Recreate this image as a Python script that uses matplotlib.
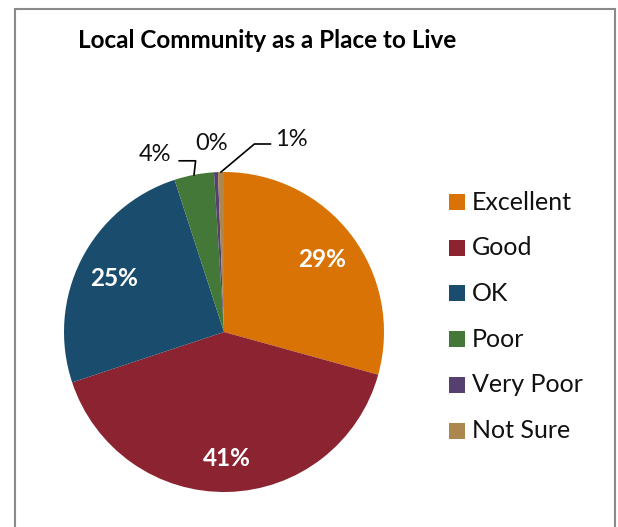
import matplotlib
matplotlib.use("Agg")
import matplotlib.pyplot as plt
from matplotlib.patches import Rectangle
import numpy as np

categories = ["Excellent", "Good", "OK", "Poor", "Very Poor", "Not Sure"]
values = [29.3, 40.6, 25.1, 4.0, 0.4, 0.6]
colors = ["#D97306", "#8C2331", "#1A4D6D", "#437839", "#55406F", "#AC874F"]
title = "Local Community as a Place to Live"

plt.rcParams['font.family'] = ['Lato', 'DejaVu Sans']

W, H = 618, 527
fig = plt.figure(figsize=(W / 100, H / 100), dpi=100)
fig.patch.set_facecolor("white")

# outer border
fig.patches.append(Rectangle((14.5 / W, -0.1), (615 - 14.5) / W, 1.1 - 8.5 / H,
                             transform=fig.transFigure, fill=False,
                             edgecolor="#8a8a8a", linewidth=1.5))

cx, cy, r = 224, 332, 160
ax = fig.add_axes([(cx - r) / W, (H - cy - r) / H, 2 * r / W, 2 * r / H])
wedges, _ = ax.pie(values, colors=colors, startangle=90, counterclock=False,
                   radius=1.0, wedgeprops=dict(linewidth=0))
ax.set_xlim(-1, 1)
ax.set_ylim(-1, 1)
ax.set_aspect("equal")
ax.axis("off")

total = sum(values)
cum = 0
mids = []
for v in values:
    mids.append(90 - 360 * (cum + v / 2) / total)
    cum += v

# inside labels for the large slices
for i in range(3):
    a = np.deg2rad(mids[i])
    d = 0.77 if i != 1 else 0.78
    ax.text(d * np.cos(a), d * np.sin(a) - 0.01, f"{values[i]:.0f}%", color="white",
            ha="center", va="center", fontsize=17.5, fontweight="bold")

# outside labels with leader lines
txt_pos = {3: (-0.43, 1.11), 4: (-0.08, 1.175), 5: (0.42, 1.205)}
for i, (tx, ty) in txt_pos.items():
    a = np.deg2rad(mids[i])
    ex, ey = np.cos(a), np.sin(a)
    ax.text(tx, ty, f"{values[i]:.0f}%", ha="center", va="center",
            fontsize=17, color="#111111")
    if i == 3:
        ax.plot([tx + 0.15, ex + 0.01, ex], [ty - 0.04, ty - 0.04, ey],
                color="black", lw=1.2, clip_on=False)
    if i == 5:
        ax.plot([tx - 0.13, tx - 0.23, ex], [ty - 0.03, ty - 0.03, ey],
                color="black", lw=1.2, clip_on=False)

fig.text(267 / W, 1 - 40 / H, title, ha="center", va="center",
         fontsize=17.5, fontweight="bold")

# legend
leg_top = 202
for i, lab in enumerate(categories):
    y = leg_top + i * 45.7
    fig.patches.append(Rectangle((449 / W, 1 - (y + 8) / H), 16 / W, 16 / H,
                                 transform=fig.transFigure, facecolor=colors[i],
                                 edgecolor="none"))
    fig.text(472 / W, 1 - y / H, lab, ha="left", va="center", fontsize=18,
             color="#111111")

fig.savefig("out.png", dpi=100)
